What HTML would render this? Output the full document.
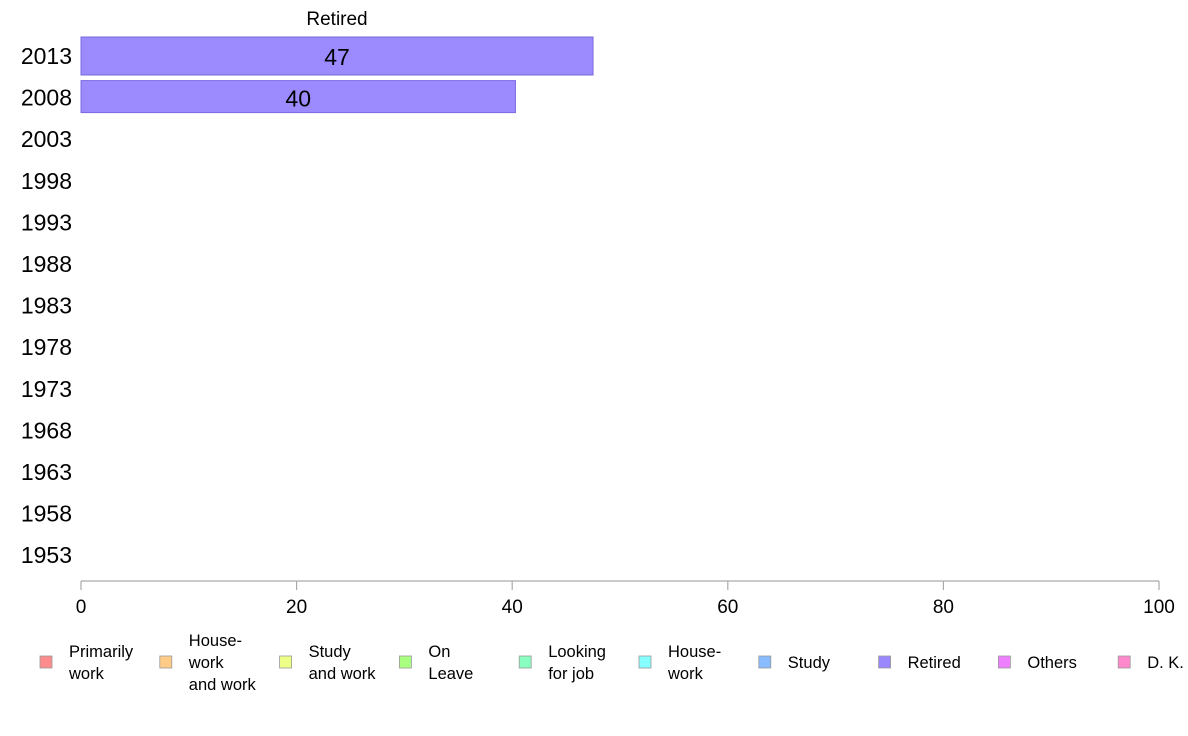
<!DOCTYPE html>
<html><head><meta charset="utf-8"><style>
body{margin:0;background:#fff;}
svg{display:block;font-family:"Liberation Sans",Arial,sans-serif;}
</style></head><body>
<svg id="chart" width="1188" height="736" viewBox="0 0 1188 736">
<text x="337" y="25" font-size="19" text-anchor="middle" fill="#000">Retired</text>
<g id="yaxis"></g>
<g id="bars"></g>
<g id="xaxis"></g>
<g id="legend"></g>
</svg>
<script>
const years = ["2013","2008","2003","1998","1993","1988","1983","1978","1973","1968","1963","1958","1953"];
const values = [47.5, 40.3, null, null, null, null, null, null, null, null, null, null, null];
const valueLabels = ["47","40"];
const xTicks = [0,20,40,60,80,100];
const legendLabels = [["Primarily","work"],["House-","work","and work"],["Study","and work"],["On","Leave"],["Looking","for job"],["House-","work"],["Study"],["Retired"],["Others"],["D. K."]];
const legendColors = ["#ff8c8c","#ffcc88","#eeff88","#a8ff80","#88ffc0","#88ffff","#88bbff","#9988ff","#ee80ff","#ff88cc"];

const NS="http://www.w3.org/2000/svg";
const x0=81, x1=1159;
const xs=v=>x0+(v/100)*(x1-x0);
const ys=i=>56+i*41.6;
function mk(tag,attrs,parent){const e=document.createElementNS(NS,tag);for(const k in attrs)e.setAttribute(k,attrs[k]);parent.appendChild(e);return e;}
const yg=document.getElementById('yaxis'), bg=document.getElementById('bars'), xg=document.getElementById('xaxis'), lg=document.getElementById('legend');

years.forEach((y,i)=>{
  const t=mk('text',{x:72,y:ys(i)+8,'font-size':23,'text-anchor':'end',fill:'#000'},yg);
  t.textContent=y;
  
  
  const v=values[i];
  if(v!=null){
    const h = i===0?38:32;
    const top = i===0?ys(i)-19:ys(i)-17;
    const r=mk('rect',{x:x0,y:top,width:xs(v)-x0,height:h,fill:'#9b8bff',stroke:'#7a68e0','stroke-width':1},bg);
    
    
    const lt=mk('text',{x:(x0+xs(v))/2,y:ys(i)+9,'font-size':23,'text-anchor':'middle',fill:'#000'},bg);
    lt.textContent=valueLabels[i];
    
    
  }
});

const axl=mk('line',{x1:x0,y1:581,x2:x1,y2:581,stroke:'#aaa','stroke-width':1.2},xg);


xTicks.forEach(v=>{
  const tk=mk('line',{x1:xs(v),y1:581,x2:xs(v),y2:590,stroke:'#aaa','stroke-width':1.2},xg);
  
  
  const t=mk('text',{x:xs(v),y:613,'font-size':19,'text-anchor':'middle',fill:'#000'},xg);
  t.textContent=v;
  
  
});

legendLabels.forEach((lines,i)=>{
  const bx=40+i*119.8;
  const g=mk('g',{},lg);
  
  
  mk('rect',{x:bx,y:656,width:12,height:12,fill:legendColors[i],stroke:'#999','stroke-width':0.8},g);
  const n=lines.length;
  lines.forEach((ln,j)=>{
    const t=mk('text',{x:bx+29,y:668+(j-(n-1)/2)*22,'font-size':16.5,fill:'#000'},g);
    t.textContent=ln;
  });
});
</script>
</body></html>
